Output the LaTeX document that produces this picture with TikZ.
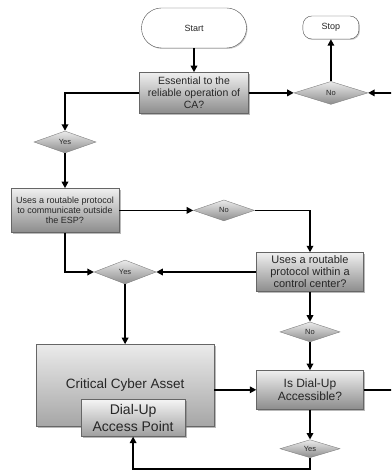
\documentclass[tikz,border=0pt]{standalone}
\usepackage{fontspec}
\setmainfont{Liberation Sans}
\usepackage{tikz}
\usetikzlibrary{positioning}
\usetikzlibrary{shapes,shapes.geometric,arrows.meta,shadows}
\tikzstyle{terminal} = [rectangle, draw=black!70, fill=white, text=black!85, text centered, drop shadow={shadow xshift=1pt, shadow yshift=-1pt, fill=black!40}, font=\fontsize{9}{10}\selectfont]
\tikzstyle{question} = [rectangle, draw=black!60, top color=black!6, bottom color=black!45, text=black!85, align=center, inner sep=0pt, drop shadow={shadow xshift=1.5pt, shadow yshift=-1.5pt, fill=black!55}]
\tikzstyle{answer} = [diamond, draw=black!50, top color=black!8, bottom color=black!45, text=black!85, aspect=3, inner sep=0pt, minimum width=62pt, minimum height=22pt, font=\fontsize{7.5}{8}\selectfont]
\tikzstyle{flow} = [draw, line width=1.8pt, -{Triangle[length=6.5pt,width=6.5pt]}]

\begin{document}
\begin{tikzpicture}[x=1pt, y=1pt]
	\path [use as bounding box, clip] (0,0) rectangle (391,-470);

	% top row
	\node [terminal, rounded corners=20pt, minimum width=105pt, minimum height=40pt] at (194,-28) (start) {Start};
	\node [question, below=24pt of start, minimum width=109pt, minimum height=41pt, font=\fontsize{10.5}{12}\selectfont] (essential) {Essential to the\\reliable operation of\\CA?};
	\node [answer, right=45pt of essential, minimum width=74pt, minimum height=23pt] (noA) {No};
	\node [terminal, above=42pt of noA, rounded corners=9pt, minimum width=56pt, minimum height=23pt] (stop) {Stop};

	% left branch
	\node [answer] at (65,-142) (yesA) {Yes};
	\node [question, below=35pt of yesA, minimum width=108pt, minimum height=44pt, font=\fontsize{9}{10}\selectfont] (routable) {Uses a routable protocol\\to communicate outside\\the ESP?};
	\node [answer, right=74pt of routable, minimum width=61pt, minimum height=21pt] (noB) {No};

	% right column
	\node [question, minimum width=107pt, minimum height=39pt, font=\fontsize{11}{12}\selectfont] at (310,-272) (control) {Uses a routable\\protocol within a\\control center?};
	\node [answer, below=30pt of control, minimum width=60pt, minimum height=20pt] (noC) {No};
	\node [question, below=28pt of noC, minimum width=107pt, minimum height=39pt, font=\fontsize{12}{13}\selectfont] (dial) {Is Dial-Up\\Accessible?};
	\node [answer, below=30pt of dial, minimum width=60pt, minimum height=18pt] (yesC) {Yes};

	% asset
	\node [answer, left=100pt of control, minimum height=24pt] (yesB) {Yes};
	\node [question, below=60pt of yesB, minimum width=178pt, minimum height=82pt, top color=black!8, bottom color=black!35, font=\fontsize{13.5}{15}\selectfont] (cca) {Critical Cyber Asset};
	\node [question, anchor=south, minimum width=104pt, minimum height=37pt, top color=black!4, bottom color=black!38, font=\fontsize{14}{17}\selectfont] at ([xshift=8pt, yshift=-10pt]cca.south) (dialup) {Dial-Up\\Access Point};

	% draw edges
	\path [flow] (start) -- (essential);
	\path [flow] (essential) -- (noA);
	\path [flow] (noA) -- (stop);
	\path [flow] (dial.east) -- ++(40pt,0) |- (noA.east);
	\path [flow] (essential.west) -| (yesA.north);
	\path [flow] (yesA) -- (routable);
	\path [flow] (routable) -- (noB);
	\path [flow] (noB.east) -| (control.north);
	\path [flow] (control) -- (yesB);
	\path [flow] (routable.south) |- (yesB.west);
	\path [flow] (yesB) -- (cca);
	\path [flow] (control) -- (noC);
	\path [flow] (noC) -- (dial);
	\path [flow] (cca.east |- dial.west) -- (dial.west);
	\path [flow] (dial) -- (yesC);
	\path [flow] (yesC.south) -- ++(0,-11pt) -| (dialup.south);
\end{tikzpicture}
\end{document}
